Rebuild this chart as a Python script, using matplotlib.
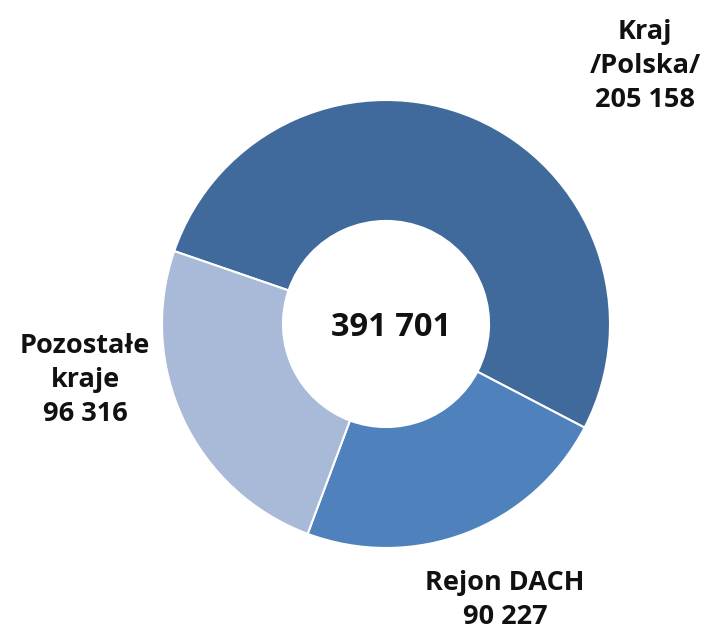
import matplotlib
matplotlib.use("Agg")
import matplotlib.pyplot as plt

# dane
labels = ["Kraj\n/Polska/\n205 158", "Rejon DACH\n90 227", "Pozostałe\nkraje\n96 316"]
values = [205158, 90227, 96316]
colors = ["#3F6A9B", "#4F81BD", "#A9B9D8"]
total_label = "391 701"

plt.rcParams["font.family"] = ["Open Sans", "DejaVu Sans"]

W, H = 708, 635
fig = plt.figure(figsize=(W / 100, H / 100), dpi=100)
ax = fig.add_axes([0, 0, 1, 1])

cx, cy, r = 386, H - 324, 224
ax.pie(values, colors=colors, startangle=161, counterclock=False,
       center=(cx, cy), radius=r, frame=True,
       wedgeprops=dict(width=r * 0.54, edgecolor="white", linewidth=1.5))
ax.set_xlim(0, W)
ax.set_ylim(0, H)
ax.set_aspect("equal")
ax.axis("off")

ax.text(cx + 5, cy - 4, total_label, ha="center", va="center",
        fontsize=23.5, fontweight="bold", color="#111111")

pos = [(645, H - 66), (505, H - 600), (85, H - 380)]
for lab, (x, y) in zip(labels, pos):
    ax.text(x, y, lab, ha="center", va="center", fontsize=19.5,
            fontweight="bold", color="#111111", linespacing=1.42)

fig.savefig("out.png", dpi=100)
